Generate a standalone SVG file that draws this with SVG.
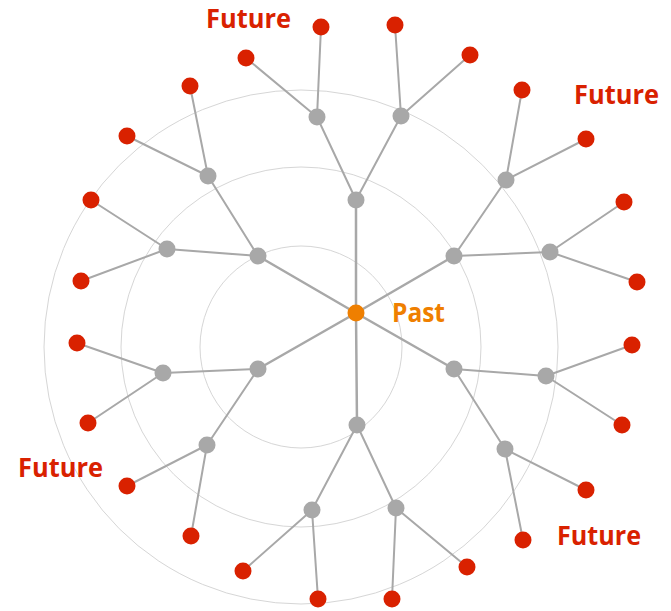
<svg xmlns="http://www.w3.org/2000/svg" width="671" height="611" viewBox="0 0 671 611">
<style>
.ring{fill:none;stroke:#d6d6d6;stroke-width:1}
.e{stroke:#a8a8a8;stroke-width:2;fill:none}
.s{stroke:#a8a8a8;stroke-width:2.5;fill:none}
.g{fill:#a8a8a8}
.r{fill:#d92100}
.o{fill:#ef7f00}
.fut{font-family:"Open Sans","Liberation Sans",sans-serif;font-weight:bold;font-size:27px;fill:#d92100}
.past{font-family:"Open Sans","Liberation Sans",sans-serif;font-weight:bold;font-size:26px;fill:#ef7f00}
</style>
<rect width="671" height="611" fill="#fff"/>
<g id="rings">
<circle class="ring" cx="301" cy="347" r="101"/>
<circle class="ring" cx="301" cy="347" r="180"/>
<circle class="ring" cx="301" cy="347" r="257"/>
</g>
<g id="connectors">
<path class="s" d="M356 313L356 200M356 313L454 256M356 313L258 256M356 313L258 369M356 313L357 425M356 313L454 369"/>
<path class="e" d="M356 200L317 117M356 200L401 116M454 256L506 180M454 256L550 252M258 256L208 176M258 256L167 249M258 369L163 373M258 369L207 445M357 425L312 510M357 425L396 508M454 369L546 376M454 369L505 449"/>
<path class="e" d="M317 117L246 58M317 117L321 27M401 116L395 25M401 116L470 55M506 180L522 90M506 180L586 139M550 252L624 202M550 252L637 282M546 376L632 345M546 376L622 425M505 449L586 490M505 449L523 540M396 508L467 567M396 508L392 599M312 510L318 599M312 510L243 571M207 445L191 536M207 445L127 486M163 373L88 423M163 373L77 343M167 249L81 281M167 249L91 200M208 176L127 136M208 176L190 86"/>
</g>
<g id="past"><circle class="o" cx="356" cy="313" r="8.5"/></g>
<g id="n1">
<circle class="g" cx="356" cy="200" r="8.5"/>
<circle class="g" cx="454" cy="256" r="8.5"/>
<circle class="g" cx="258" cy="256" r="8.5"/>
<circle class="g" cx="258" cy="369" r="8.5"/>
<circle class="g" cx="357" cy="425" r="8.5"/>
<circle class="g" cx="454" cy="369" r="8.5"/>
</g>
<g id="n2">
<circle class="g" cx="317" cy="117" r="8.5"/>
<circle class="g" cx="401" cy="116" r="8.5"/>
<circle class="g" cx="506" cy="180" r="8.5"/>
<circle class="g" cx="550" cy="252" r="8.5"/>
<circle class="g" cx="546" cy="376" r="8.5"/>
<circle class="g" cx="505" cy="449" r="8.5"/>
<circle class="g" cx="396" cy="508" r="8.5"/>
<circle class="g" cx="312" cy="510" r="8.5"/>
<circle class="g" cx="207" cy="445" r="8.5"/>
<circle class="g" cx="163" cy="373" r="8.5"/>
<circle class="g" cx="167" cy="249" r="8.5"/>
<circle class="g" cx="208" cy="176" r="8.5"/>
</g>
<g id="leaves">
<circle class="r" cx="246" cy="58" r="8.5"/>
<circle class="r" cx="321" cy="27" r="8.5"/>
<circle class="r" cx="395" cy="25" r="8.5"/>
<circle class="r" cx="470" cy="55" r="8.5"/>
<circle class="r" cx="522" cy="90" r="8.5"/>
<circle class="r" cx="586" cy="139" r="8.5"/>
<circle class="r" cx="624" cy="202" r="8.5"/>
<circle class="r" cx="637" cy="282" r="8.5"/>
<circle class="r" cx="632" cy="345" r="8.5"/>
<circle class="r" cx="622" cy="425" r="8.5"/>
<circle class="r" cx="586" cy="490" r="8.5"/>
<circle class="r" cx="523" cy="540" r="8.5"/>
<circle class="r" cx="467" cy="567" r="8.5"/>
<circle class="r" cx="392" cy="599" r="8.5"/>
<circle class="r" cx="318" cy="599" r="8.5"/>
<circle class="r" cx="243" cy="571" r="8.5"/>
<circle class="r" cx="191" cy="536" r="8.5"/>
<circle class="r" cx="127" cy="486" r="8.5"/>
<circle class="r" cx="88" cy="423" r="8.5"/>
<circle class="r" cx="77" cy="343" r="8.5"/>
<circle class="r" cx="81" cy="281" r="8.5"/>
<circle class="r" cx="91" cy="200" r="8.5"/>
<circle class="r" cx="127" cy="136" r="8.5"/>
<circle class="r" cx="190" cy="86" r="8.5"/>
</g>
<g id="labels">
<text class="fut" x="206" y="27.5" textLength="85" lengthAdjust="spacingAndGlyphs">Future</text>
<text class="fut" x="574" y="104" textLength="85" lengthAdjust="spacingAndGlyphs">Future</text>
<text class="fut" x="18" y="477" textLength="85" lengthAdjust="spacingAndGlyphs">Future</text>
<text class="fut" x="557" y="545" textLength="84" lengthAdjust="spacingAndGlyphs">Future</text>
<text class="past" x="392" y="322" textLength="53" lengthAdjust="spacingAndGlyphs">Past</text>
</g>
</svg>
